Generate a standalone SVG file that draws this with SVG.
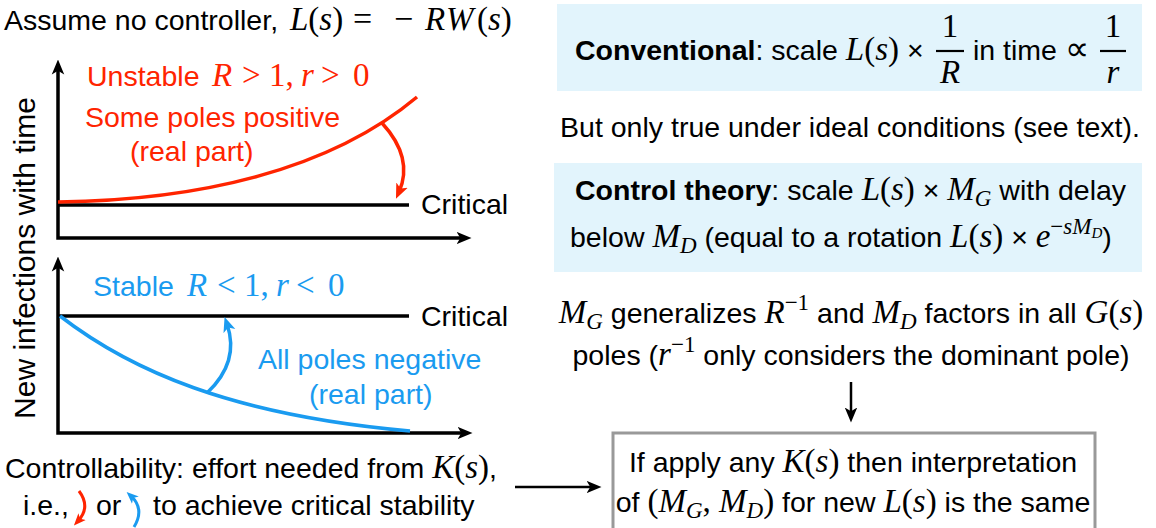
<svg xmlns="http://www.w3.org/2000/svg" width="1156" height="528" viewBox="0 0 1156 528">
<style>
.s{font-family:"Liberation Sans",Arial,sans-serif;font-size:28.5px;fill:#000}
.b{font-weight:bold}
.m{font-family:"Liberation Serif","Times New Roman",serif;font-size:33px;fill:#000}
.i{font-style:italic}
.sub{font-size:23px}
.sup{font-size:23px}
.ss{font-size:15px}
.big{font-size:34px}
.red{fill:#ff2400}
.blue{fill:#1a9bf0}
.ax{fill:none;stroke:#000;stroke-width:3.5}
.crit{stroke:#000;stroke-width:3.5}
.rc{fill:none;stroke:#ff2400;stroke-width:3.5}
.bc{fill:none;stroke:#1a9bf0;stroke-width:3.5}
.con{fill:none;stroke:#000;stroke-width:2.5}
.box{fill:#e2f4fc}
.frac{stroke:#000;stroke-width:2.2}
</style>
<defs>
<marker id="ak" viewBox="0 0 12 12" refX="6" refY="6" markerWidth="15" markerHeight="15" markerUnits="userSpaceOnUse" orient="auto-start-reverse"><path d="M0,1 L12,6 L0,11 L3,6 z" fill="#000"/></marker>
<marker id="ar" viewBox="0 0 12 12" refX="6" refY="6" markerWidth="15" markerHeight="15" markerUnits="userSpaceOnUse" orient="auto"><path d="M0,1 L12,6 L0,11 L3,6 z" fill="#ff2400"/></marker>
<marker id="ab" viewBox="0 0 12 12" refX="6" refY="6" markerWidth="15" markerHeight="15" markerUnits="userSpaceOnUse" orient="auto"><path d="M0,1 L12,6 L0,11 L3,6 z" fill="#1a9bf0"/></marker>
<marker id="ars" viewBox="0 0 12 12" refX="6" refY="6" markerWidth="12" markerHeight="12" markerUnits="userSpaceOnUse" orient="auto"><path d="M0,1 L12,6 L0,11 L3,6 z" fill="#ff2400"/></marker>
<marker id="abs" viewBox="0 0 12 12" refX="6" refY="6" markerWidth="12" markerHeight="12" markerUnits="userSpaceOnUse" orient="auto"><path d="M0,1 L12,6 L0,11 L3,6 z" fill="#1a9bf0"/></marker>
</defs>

<g id="title">
<text x="4" y="30" class="s">Assume no controller,</text>
<text y="30" class="m"><tspan x="290" class="i">L</tspan>(<tspan class="i">s</tspan>)<tspan x="353" class="big">=</tspan><tspan x="394" class="big">−</tspan><tspan x="425" class="i">R</tspan><tspan x="446" class="i">W</tspan><tspan x="477">(</tspan><tspan class="i">s</tspan>)</text>
</g>

<g id="ylabel">
<text class="s" text-anchor="middle" transform="translate(35,258) rotate(-90)" style="font-size:30px">New infections with time</text>
</g>

<g id="plot-unstable">
<path class="ax" d="M58,67 V238 H464" marker-start="url(#ak)" marker-end="url(#ak)"/>
<line class="crit" x1="58" y1="205" x2="409" y2="205"/>
<text x="421" y="214" class="s">Critical</text>
<path class="rc" d="M58,202 C200,200 330,170 417,97"/>
<text x="87" y="86" class="s red">Unstable</text>
<text y="86" class="m red"><tspan x="212" class="i">R</tspan><tspan x="242">&gt;</tspan><tspan x="269">1,</tspan><tspan x="301" class="i">r</tspan><tspan x="321">&gt;</tspan><tspan x="353">0</tspan></text>
<text x="85" y="127" class="s red">Some poles positive</text>
<text x="130" y="161" class="s red">(real part)</text>
</g>

<g id="plot-stable">
<path class="ax" d="M58,264 V433 H465" marker-start="url(#ak)" marker-end="url(#ak)"/>
<line class="crit" x1="58" y1="316" x2="409" y2="316"/>
<text x="421" y="326" class="s">Critical</text>
<path class="bc" d="M60,316 C130,370 230,415 410,431"/>
<text x="93" y="296" class="s blue">Stable</text>
<text y="296" class="m blue"><tspan x="187" class="i">R</tspan><tspan x="217">&lt;</tspan><tspan x="244">1,</tspan><tspan x="276" class="i">r</tspan><tspan x="296">&lt;</tspan><tspan x="328">0</tspan></text>
<text x="258" y="369" class="s blue">All poles negative</text>
<text x="309" y="404" class="s blue">(real part)</text>
</g>

<g id="controllability">
<text x="5" y="478" class="s">Controllability: effort needed from <tspan class="m i">K</tspan><tspan class="m">(</tspan><tspan class="m i">s</tspan><tspan class="m">)</tspan>,</text>
<text y="515" class="s"><tspan x="23">i.e.,</tspan><tspan x="96">or</tspan><tspan x="153">to achieve critical stability</tspan></text>
</g>

<g id="conventional">
<rect class="box" x="557" y="4" width="585" height="87"/>
<text x="575" y="60" class="s"><tspan class="b">Conventional</tspan>: scale <tspan class="m i">L</tspan><tspan class="m">(</tspan><tspan class="m i">s</tspan><tspan class="m">)</tspan> ×</text>
<text x="950" y="37" class="m" text-anchor="middle">1</text>
<line class="frac" x1="936" y1="51" x2="964" y2="51"/>
<text x="950" y="83" class="m i" text-anchor="middle">R</text>
<text x="973" y="60" class="s">in time <tspan class="big">∝</tspan></text>
<text x="1113" y="37" class="m" text-anchor="middle">1</text>
<line class="frac" x1="1100" y1="51" x2="1126" y2="51"/>
<text x="1113" y="83" class="m i" text-anchor="middle">r</text>
</g>

<g id="caveat">
<text x="850" y="137" class="s" text-anchor="middle">But only true under ideal conditions (see text).</text>
</g>

<g id="control-theory">
<rect class="box" x="554" y="163" width="588" height="109"/>
<text x="575" y="200" class="s"><tspan class="b">Control theory</tspan>: scale <tspan class="m i">L</tspan><tspan class="m">(</tspan><tspan class="m i">s</tspan><tspan class="m">)</tspan> × <tspan class="m i">M</tspan><tspan class="m i sub" dy="6">G</tspan><tspan dy="-6"> with delay</tspan></text>
<text x="570" y="247" class="s">below <tspan class="m i">M</tspan><tspan class="m i sub" dy="6">D</tspan><tspan dy="-6"> (equal to a rotation </tspan><tspan class="m i">L</tspan><tspan class="m">(</tspan><tspan class="m i">s</tspan><tspan class="m">)</tspan> × <tspan class="m i">e</tspan><tspan class="m sup" dy="-13">−</tspan><tspan class="m i sup">sM</tspan><tspan class="m i ss" dy="4">D</tspan><tspan dy="9">)</tspan></text>
</g>

<g id="generalizes">
<text x="851" y="323" class="s" text-anchor="middle"><tspan class="m i">M</tspan><tspan class="m i sub" dy="6">G</tspan><tspan dy="-6"> generalizes </tspan><tspan class="m i">R</tspan><tspan class="m sup" dy="-13">−1</tspan><tspan dy="13"> and </tspan><tspan class="m i">M</tspan><tspan class="m i sub" dy="6">D</tspan><tspan dy="-6"> factors in all </tspan><tspan class="m i">G</tspan><tspan class="m">(</tspan><tspan class="m i">s</tspan><tspan class="m">)</tspan></text>
<text x="851" y="365" class="s" text-anchor="middle">poles (<tspan class="m i">r</tspan><tspan class="m sup" dy="-13">−1</tspan><tspan dy="13"> only considers the dominant pole)</tspan></text>
</g>

<g id="result">
<rect x="613" y="433" width="482" height="110" fill="#fff" stroke="#999" stroke-width="3"/>
<text x="853" y="472" class="s" text-anchor="middle">If apply any <tspan class="m i">K</tspan><tspan class="m">(</tspan><tspan class="m i">s</tspan><tspan class="m">)</tspan> then interpretation</text>
<text x="853" y="512" class="s" text-anchor="middle">of <tspan class="m">(</tspan><tspan class="m i">M</tspan><tspan class="m i sub" dy="6">G</tspan><tspan class="m" dy="-6">, </tspan><tspan class="m i">M</tspan><tspan class="m i sub" dy="6">D</tspan><tspan class="m" dy="-6">)</tspan> for new <tspan class="m i">L</tspan><tspan class="m">(</tspan><tspan class="m i">s</tspan><tspan class="m">)</tspan> is the same</text>
</g>

<g id="connectors">
<path class="rc" d="M382,123 Q414,158 399,192" marker-end="url(#ar)"/>
<path class="bc" d="M207,393 Q240,362 227,324" marker-end="url(#ab)"/>
<path d="M79,491 Q91,507 78,521" fill="none" stroke="#ff2400" stroke-width="3" marker-end="url(#ars)"/>
<path d="M134,527 Q145,509 131,496" fill="none" stroke="#1a9bf0" stroke-width="3" marker-end="url(#abs)"/>
<line class="con" x1="515" y1="487" x2="594" y2="487" marker-end="url(#ak)"/>
<line class="con" x1="851" y1="382" x2="851" y2="415" marker-end="url(#ak)"/>
</g>
</svg>
